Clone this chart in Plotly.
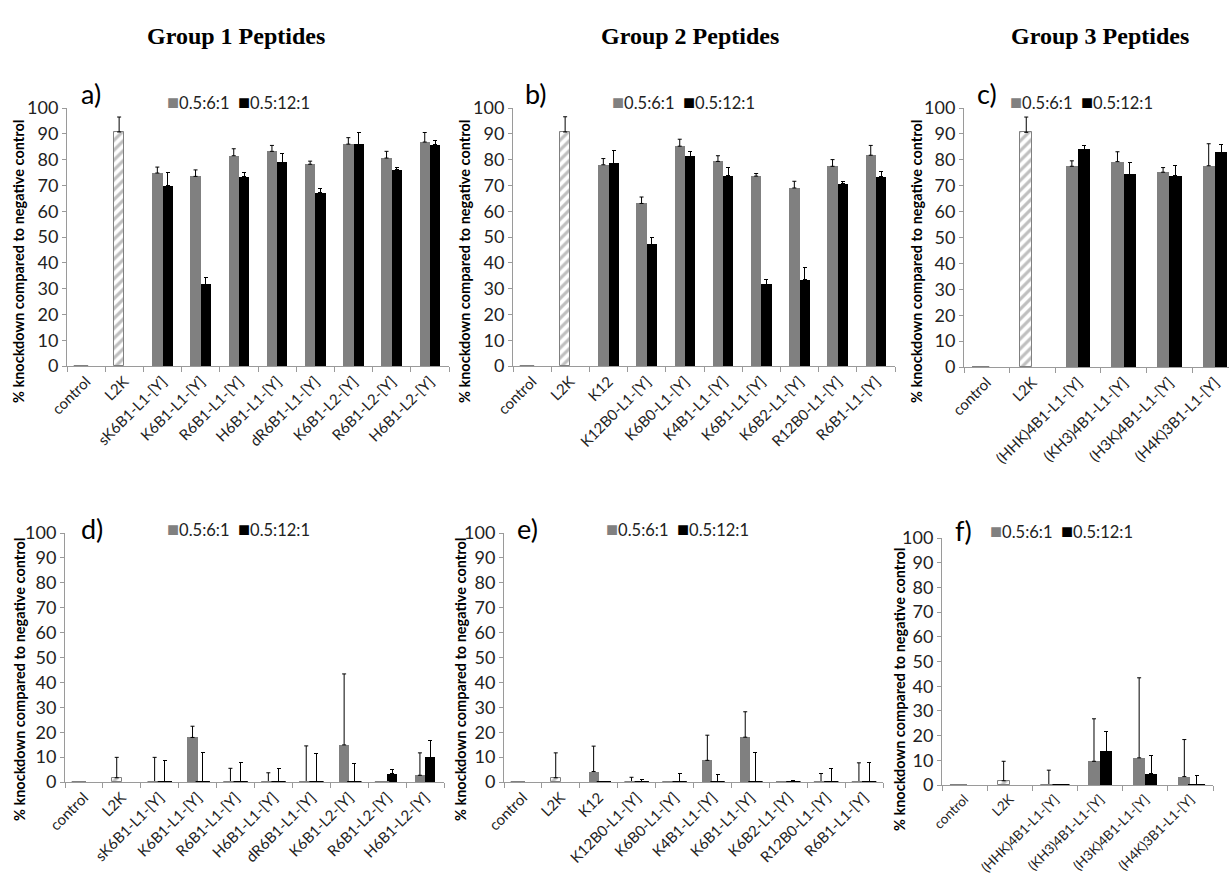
import plotly.graph_objects as go

W, H = 1229, 881
FONT = "Lato"
GRAY = "#808080"
BLACK = "#000000"
AXIS = "#9a9a9a"
TEXT = "#222222"

# ---- category labels ----
group1_labels = ["control", "L2K", "sK6B1-L1-[Y]", "K6B1-L1-[Y]", "R6B1-L1-[Y]",
                 "H6B1-L1-[Y]", "dR6B1-L1-[Y]", "K6B1-L2-[Y]", "R6B1-L2-[Y]", "H6B1-L2-[Y]"]
group2_labels = ["control", "L2K", "K12", "K12B0-L1-[Y]", "K6B0-L1-[Y]", "K4B1-L1-[Y]",
                 "K6B1-L1-[Y]", "K6B2-L1-[Y]", "R12B0-L1-[Y]", "R6B1-L1-[Y]"]
group3_labels = ["control", "L2K", "(HHK)4B1-L1-[Y]", "(KH3)4B1-L1-[Y]",
                 "(H3K)4B1-L1-[Y]", "(H4K)3B1-L1-[Y]"]

# ---- a) group 1, upper row ----
a_ratio6 = [0, 90.7, 74.8, 73.5, 81.5, 83.2, 78.2, 86.0, 80.6, 86.8]
a_ratio6_sd = [0, 5.8, 2.3, 2.5, 2.7, 2.3, 1.2, 2.5, 2.6, 3.7]
a_ratio12 = [None, None, 69.9, 31.6, 73.3, 79.0, 67.2, 85.9, 76.1, 85.8]
a_ratio12_sd = [0, 0, 5.1, 2.7, 1.8, 3.4, 1.7, 4.7, 0.8, 1.6]

# ---- b) group 2, upper row ----
b_ratio6 = [0, 90.7, 78.0, 63.0, 85.2, 79.3, 73.6, 69.0, 77.4, 81.7]
b_ratio6_sd = [0, 5.9, 2.4, 2.5, 2.7, 2.2, 1.0, 2.6, 2.6, 3.8]
b_ratio12 = [None, None, 78.5, 47.2, 81.3, 73.7, 31.7, 33.5, 70.6, 73.4]
b_ratio12_sd = [0, 0, 5.0, 2.7, 1.9, 3.4, 1.8, 4.7, 0.8, 2.0]

# ---- c) group 3, upper row ----
c_ratio6 = [0, 90.6, 77.5, 79.3, 75.2, 77.7]
c_ratio6_sd = [0, 5.9, 2.1, 3.8, 1.8, 8.5]
c_ratio12 = [None, None, 84.1, 74.4, 73.9, 83.0]
c_ratio12_sd = [0, 0, 1.6, 4.7, 3.9, 2.8]

# ---- d) group 1, lower row ----
d_ratio6 = [0, 1.7, 0, 17.9, 0, 0, 0, 14.9, 0, 2.7]
d_ratio6_sd = [0, 8.2, 9.9, 4.5, 5.5, 3.7, 14.5, 28.5, 0, 9.0]
d_ratio12 = [None, None, 0, 0, 0, 0, 0, 0, 3.3, 9.9]
d_ratio12_sd = [0, 0, 8.6, 11.8, 7.9, 5.5, 11.5, 7.4, 1.9, 6.7]

# ---- e) group 2, lower row ----
e_ratio6 = [0, 1.7, 4.2, 0, 0, 8.7, 18.0, 0, 0, 0]
e_ratio6_sd = [0, 10.0, 10.2, 1.9, 0, 10.1, 10.2, 0, 3.4, 7.7]
e_ratio12 = [None, None, 0, 0, 0, 0, 0, 0, 0, 0]
e_ratio12_sd = [0, 0, 0, 1.2, 3.6, 3.0, 11.7, 0.8, 5.3, 7.9]

# ---- f) group 3, lower row ----
f_ratio6 = [0, 1.7, 0, 9.6, 11.0, 3.4]
f_ratio6_sd = [0, 7.9, 6.0, 17.2, 32.4, 15.0]
f_ratio12 = [None, None, 0, 13.7, 4.6, 0]
f_ratio12_sd = [0, 0, 0, 8.0, 7.2, 3.7]

series_names = ["0.5:6:1", "0.5:12:1"]
group_titles = ["Group 1 Peptides", "Group 2 Peptides", "Group 3 Peptides"]
y_title = "% knockdown compared to negative control"

# panel layout in pixels: plot box (left, right, top, bottom), right end of x range,
# y-title centre, tag position, legend position, category label size
panels = [
    dict(tag="a)", labels=group1_labels, low=a_ratio6, low_sd=a_ratio6_sd, high=a_ratio12, high_sd=a_ratio12_sd,
         box=(67, 449, 108, 366), xend=None, ytitle=(19, 262), tagpos=(79, 94), legpos=(165, 101), lab=15),
    dict(tag="b)", labels=group2_labels, low=b_ratio6, low_sd=b_ratio6_sd, high=b_ratio12, high_sd=b_ratio12_sd,
         box=(513, 895, 108, 366), xend=None, ytitle=(465, 262), tagpos=(523, 94), legpos=(610, 101), lab=15),
    dict(tag="c)", labels=group3_labels, low=c_ratio6, low_sd=c_ratio6_sd, high=c_ratio12, high_sd=c_ratio12_sd,
         box=(964, 1229, 108, 367), xend=5.31, ytitle=(917, 262), tagpos=(975, 94), legpos=(1008, 101), lab=15),
    dict(tag="d)", labels=group1_labels, low=d_ratio6, low_sd=d_ratio6_sd, high=d_ratio12, high_sd=d_ratio12_sd,
         box=(65, 444, 533, 782), xend=None, ytitle=(19, 680), tagpos=(79, 528), legpos=(165, 528), lab=15),
    dict(tag="e)", labels=group2_labels, low=e_ratio6, low_sd=e_ratio6_sd, high=e_ratio12, high_sd=e_ratio12_sd,
         box=(504, 883, 533, 782), xend=None, ytitle=(460, 680), tagpos=(515, 528), legpos=(604, 528), lab=15),
    dict(tag="f)", labels=group3_labels, low=f_ratio6, low_sd=f_ratio6_sd, high=f_ratio12, high_sd=f_ratio12_sd,
         box=(942, 1213, 538, 785), xend=None, ytitle=(899, 690), tagpos=(953, 530), legpos=(988, 530), lab=13.5),
]

BAR_W = 0.27  # bar width in category units

fig = go.Figure()
layout = dict(
    width=W, height=H, margin=dict(l=0, r=0, t=0, b=0, autoexpand=False),
    paper_bgcolor="white", plot_bgcolor="white", showlegend=False,
    font=dict(family=FONT, color=TEXT), annotations=[], bargap=0,
)

for k, p in enumerate(panels, start=1):
    xa, ya = f"x{k}", f"y{k}"
    n = len(p["labels"])
    idx = list(range(n))
    left, right, top, bottom = p["box"]
    xend = p["xend"] if p["xend"] else n - 0.5
    cat_px = (right - left) / (xend + 0.5)
    bar_px = BAR_W * cat_px

    # lipofectamine (L2K) reference is hatched within the first series
    shapes = ["/" if lab == "L2K" else "" for lab in p["labels"]]
    line_w = [1 if lab == "L2K" else 0 for lab in p["labels"]]

    fig.add_trace(go.Bar(
        x=idx, y=p["low"], width=BAR_W, offset=-BAR_W, name=series_names[0],
        xaxis=xa, yaxis=ya,
        marker=dict(color=GRAY, line=dict(color=GRAY, width=line_w),
                    pattern=dict(shape=shapes, fgcolor=GRAY, bgcolor="white", size=7, solidity=0.45)),
        error_y=dict(type="data", symmetric=False, array=p["low_sd"], arrayminus=[0] * n,
                     color=BLACK, thickness=1, width=2),
    ))
    fig.add_trace(go.Bar(
        x=idx, y=p["high"], width=BAR_W, offset=0, name=series_names[1],
        xaxis=xa, yaxis=ya, marker=dict(color=BLACK, line=dict(width=0)),
        error_y=dict(type="data", symmetric=False, array=p["high_sd"], arrayminus=[0] * n,
                     color=BLACK, thickness=1, width=2),
    ))

    # zero-valued bars appear as a flat dash on the axis
    for vals, col, shift in ((p["low"], GRAY, -BAR_W / 2), (p["high"], BLACK, BAR_W / 2)):
        zx = [i + shift for i, v in zip(idx, vals) if v == 0]
        if zx:
            fig.add_trace(go.Scatter(
                x=zx, y=[0] * len(zx), mode="markers", xaxis=xa, yaxis=ya, hoverinfo="skip",
                marker=dict(symbol="line-ew", size=bar_px, color=col, line=dict(color=col, width=2)),
            ))

    layout[f"xaxis{k}"] = dict(
        domain=[left / W, right / W], anchor=ya, range=[-0.5, xend], automargin=False,
        tickmode="array", tickvals=idx, ticktext=p["labels"], tickangle=-45, ticks="",
        tickfont=dict(family=FONT, size=p["lab"], color=TEXT),
        showline=True, linecolor=AXIS, linewidth=1, showgrid=False, zeroline=False,
        minor=dict(tickmode="array", tickvals=[i - 0.5 for i in range(n + 1)],
                   ticks="outside", ticklen=5, tickcolor=AXIS, tickwidth=1, showgrid=False),
    )
    layout[f"yaxis{k}"] = dict(
        domain=[1 - bottom / H, 1 - top / H], anchor=xa, range=[0, 100], automargin=False,
        tickmode="linear", tick0=0, dtick=10, ticks="outside", ticklen=4, tickcolor=AXIS,
        tickfont=dict(family=FONT, size=18, color=TEXT),
        showline=True, linecolor=AXIS, linewidth=1, showgrid=False, zeroline=False,
    )

    tx, ty = p["ytitle"]
    layout["annotations"].append(dict(
        text=f"<b>{y_title}</b>", x=tx / W, y=1 - ty / H, xref="paper", yref="paper",
        textangle=-90, showarrow=False, font=dict(family=FONT, size=14.5, color=BLACK),
        xanchor="center", yanchor="middle",
    ))
    gx, gy = p["tagpos"]
    layout["annotations"].append(dict(
        text=p["tag"], x=gx / W, y=1 - gy / H, xref="paper", yref="paper", showarrow=False,
        font=dict(family=FONT, size=27, color=BLACK), xanchor="left", yanchor="middle",
    ))
    lx, ly = p["legpos"]
    legend_text = (f"<span style='color:{GRAY};font-size:20px'>■</span>{series_names[0]}  "
                   f"<span style='color:{BLACK};font-size:20px'>■</span>{series_names[1]}")
    layout["annotations"].append(dict(
        text=legend_text, x=lx / W, y=1 - ly / H, xref="paper", yref="paper", showarrow=False,
        font=dict(family=FONT, size=16.5, color=TEXT), xanchor="left", yanchor="middle",
    ))

for title, cx in zip(group_titles, (236, 690, 1100)):
    layout["annotations"].append(dict(
        text=f"<b>{title}</b>", x=cx / W, y=1 - 36 / H, xref="paper", yref="paper",
        showarrow=False, font=dict(family="Liberation Serif", size=24, color=BLACK),
        xanchor="center", yanchor="middle",
    ))

fig.update_layout(**layout)
fig.write_html("out.html")
